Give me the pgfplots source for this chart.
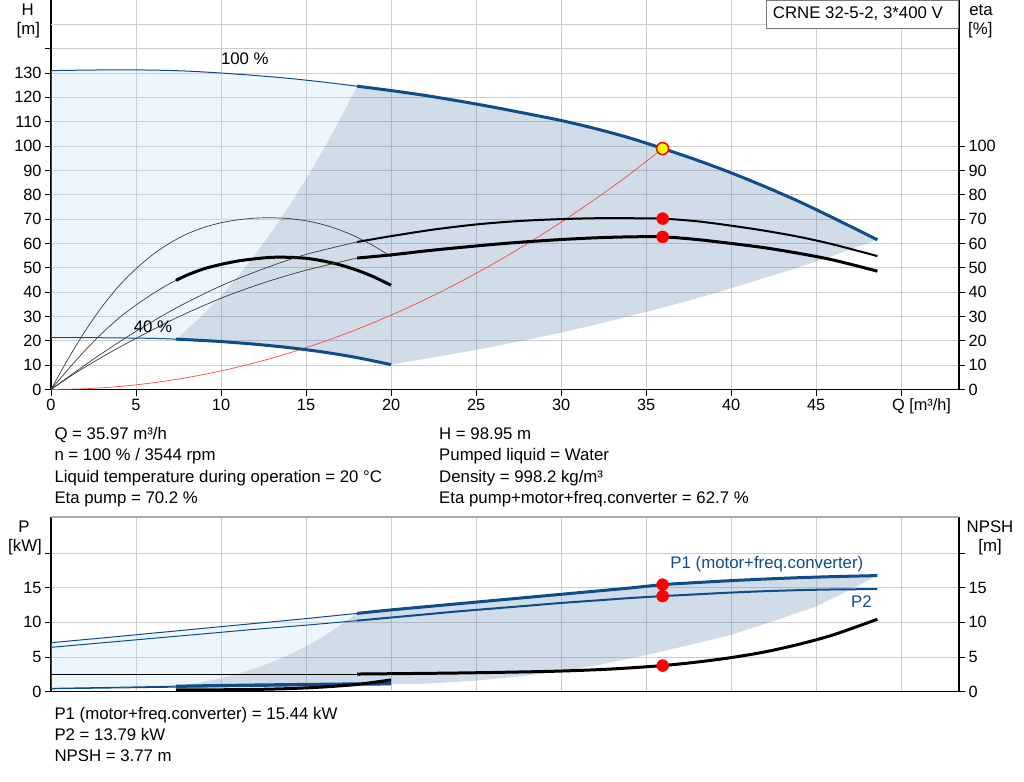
\documentclass[border=0pt]{standalone}
\usepackage{pgfplots}
\pgfplotsset{compat=1.18}
\usepackage{fontspec}
\setmainfont{Liberation Sans}
\definecolor{gblue}{RGB}{14,76,138}
\definecolor{lightfill}{RGB}{198,225,248}
\definecolor{darkfill}{RGB}{98,138,175}
\definecolor{gridc}{RGB}{205,205,205}
\definecolor{thinblack}{RGB}{60,60,60}
\definecolor{syscurve}{RGB}{255,70,70}
\definecolor{opred}{RGB}{255,0,0}
\definecolor{opyellow}{RGB}{255,255,0}
\tikzset{lbl/.style={font=\fontsize{16.8}{19}\selectfont, inner sep=0pt}}
\pgfplotsset{
  common/.style={
    scale only axis, width=908pt, xmin=0, xmax=53.4,
    tick label style={font=\fontsize{16.3}{19}\selectfont},
    /pgf/number format/assume math mode=true,
    tick align=outside, major tick length=6pt,
    tick style={black, line width=1pt},
    axis line style={-, black, line width=1.5pt},
  },
  thinb/.style={gblue, line width=1pt, smooth},
  thickb/.style={gblue, line width=3pt, smooth},
  think/.style={thinblack, line width=0.7pt, smooth},
}
\begin{document}
\begin{tikzpicture}[x=1pt,y=1pt]
\path[use as bounding box] (0,0) rectangle (1024,-781);

% ================= TOP : H / eta =================
\begin{axis}[common, at={(51pt,-389.5pt)}, anchor=south west,
  height=389.5pt, ymin=0, ymax=160,
  axis x line*=bottom, axis y line*=left,
  xtick={0,5,...,50}, xticklabels={0,5,10,15,20,25,30,35,40,45,{}},
  ytick={0,10,...,140}, yticklabels={0,10,20,30,40,50,60,70,80,90,100,110,120,130,{}},
  extra y ticks={150}, extra y tick labels={}, extra y tick style={grid=major, major tick length=0pt},
  grid=major, grid style={line width=1pt, color=gridc}]
% fills
\addplot[fill=lightfill, fill opacity=0.3, draw=none] coordinates {
(0,131.0)(2,131.2)(4,131.3)(6,131.2)(8,130.8)(10,130.0)(12,129.0)(14,127.8)(16,126.3)(18,124.6)
(17,111.0)(16,98.3)(15,86.4)(14,75.3)(13,64.9)(12,55.3)(11,46.5)(10,38.4)(9,31.1)(8,24.6)(7.35,20.7)
(6,21.0)(4,21.2)(2,21.3)(0,21.3)} --cycle;
\addplot[fill=darkfill, fill opacity=0.3, draw=none] coordinates {
(18,124.6)(20,122.8)(22,120.8)(24,118.5)(26,116.0)(28,113.3)(30,110.5)(32,107.2)(34,103.4)(36,98.95)(38,94.2)(40,89.0)(42,83.3)(44,77.2)(46,70.5)(48.6,61.5)
(46,55.0)(44,50.3)(42,45.9)(40,41.6)(38,37.5)(36,33.7)(34,30.1)(32,26.6)(30,23.4)(28,20.4)(26,17.6)(24,15.0)(22,12.6)(20,10.2)
(18,13.1)(16,15.4)(14,17.2)(12,18.6)(10,19.7)(9,20.1)(7.35,20.7)
(8,24.6)(9,31.1)(10,38.4)(11,46.5)(12,55.3)(13,64.9)(14,75.3)(15,86.4)(16,98.3)(17,111.0)(18,124.6)} --cycle;
% system curve
\addplot[syscurve, line width=0.7pt, smooth] coordinates {
(0,0)(2,0.31)(4,1.22)(6,2.75)(8,4.89)(10,7.64)(12,10.99)(14,14.96)(16,19.55)(18,24.74)(20,30.54)(22,36.95)(24,43.98)(26,51.61)(28,59.86)(30,68.71)(32,78.18)(34,88.26)(35.97,98.95)};
% eta curves 40%
\addplot[think] coordinates {
(0,0)(1,12.5)(2,23.9)(3,34.0)(4,42.6)(5,49.6)(6,55.5)(7,60.2)(8,63.9)(9,66.6)(10,68.5)(11,69.7)(12,70.4)(13,70.55)(14,70.2)(15,69.3)(16,67.75)(17,65.5)(18,62.55)(19,58.9)(20,54.55)};
\addplot[think] coordinates {(0,0)(1,8.25)(2,16.0)(3,23.1)(4,29.4)(5,34.7)(6,39.4)(7,43.6)(7.35,44.8)};
\addplot[black, line width=3pt, smooth] coordinates {
(7.35,44.8)(8,47.0)(9,49.6)(10,51.4)(11,52.8)(12,53.7)(13,54.3)(14,54.3)(15,53.9)(16,52.8)(17,51.2)(18,49.0)(19,46.2)(20,42.8)};
% eta curves 100%
\addplot[think] coordinates {(0,0)(2.5,12.5)(5,23.9)(7.5,34.0)(10,42.6)(12.5,49.6)(15,55.5)(18,60.6)};
\addplot[black, line width=2pt, smooth] coordinates {
(18,60.6)(20,63.0)(22.5,65.7)(25,67.8)(27.5,69.2)(30,70.0)(32.5,70.4)(35,70.3)(36,70.2)(38,69.1)(40,67.3)(42,65.2)(44,62.7)(46,59.6)(48.6,54.8)};
\addplot[think] coordinates {(0,0)(1,4.8)(2,9.2)(3.5,15.3)(5,21)(7.4,29.5)(10,37.5)(12.5,43.8)(15,49)(18,54)};
\addplot[black, line width=3pt, smooth] coordinates {
(18,54)(20,55.3)(22,56.9)(24,58.3)(26,59.6)(28,60.7)(30,61.6)(32,62.3)(34,62.7)(36,62.7)(38,61.6)(40,60.0)(42,58.2)(44,55.9)(46,53.2)(48.6,48.6)};
% H curves
\addplot[thinb] coordinates {(0,131.0)(2,131.2)(4,131.3)(6,131.2)(8,130.8)(10,130.0)(12,129.0)(14,127.8)(16,126.3)(18,124.6)};
\addplot[thickb] coordinates {
(18,124.6)(20,122.8)(22,120.8)(24,118.5)(26,116.0)(28,113.3)(30,110.5)(32,107.2)(34,103.4)(36,98.95)(38,94.2)(40,89.0)(42,83.3)(44,77.2)(46,70.5)(48.6,61.5)};
\addplot[thinb] coordinates {(0,21.3)(2,21.3)(4,21.2)(6,21.0)(7.35,20.7)};
\addplot[thickb] coordinates {(7.35,20.7)(9,20.1)(10,19.7)(12,18.6)(14,17.2)(16,15.4)(18,13.1)(20,10.2)};
% operating points
\addplot[only marks, mark=*, mark size=6pt, mark options={fill=opred, draw=opred}] coordinates {(35.97,70.2)(35.97,62.7)};
\addplot[only marks, mark=*, mark size=6pt, mark options={fill=opyellow, draw=opred, line width=1.5pt}] coordinates {(35.97,98.95)};
\node[lbl] at (axis cs:11.4,136) {100 \%};
\node[lbl] at (axis cs:6.0,25.8) {40 \%};
\end{axis}
\begin{axis}[common, at={(51pt,-389.5pt)}, anchor=south west,
  height=389.5pt, ymin=0, ymax=160,
  axis x line=none, axis y line*=right,
  y axis line style={line width=2.2pt},
  ytick={0,10,...,100}]
\addplot[draw=none] coordinates {(1,1)};
\end{axis}

% ================= BOTTOM : P / NPSH =================
\begin{axis}[common, at={(51pt,-691.7pt)}, anchor=south west,
  height=174.7pt, ymin=0, ymax=25.2,
  axis x line*=bottom, axis y line*=left,
  xtick={0,5,...,50}, xticklabels={}, xtick style={draw=none},
  ytick={0,5,10,15,20}, yticklabels={0,5,10,15,{}},
  grid=major, grid style={line width=1pt, color=gridc}]
\addplot[fill=lightfill, fill opacity=0.3, draw=none] coordinates {
(0,7.07)(3,7.75)(6,8.45)(9,9.15)(12,9.85)(15,10.55)(18,11.3)
(17,9.52)(16,7.94)(15,6.54)(14,5.32)(13,4.26)(12,3.35)(11,2.58)(10,1.94)(9,1.41)(8,0.99)(7.35,0.8)
(3.5,0.62)(0,0.48)} --cycle;
\addplot[fill=darkfill, fill opacity=0.3, draw=none] coordinates {
(18,11.3)(20,11.8)(22,12.25)(24,12.7)(26,13.15)(28,13.6)(30,14.05)(32,14.5)(34,14.95)(35.97,15.44)(38,15.75)(40,16.02)(42,16.25)(44,16.45)(46,16.6)(48.6,16.75)
(47,14.7)(45,12.3)(42.5,10.2)(40,8.2)(37.5,6.7)(35,5.3)(32.5,4.0)(30,2.9)(27.5,2.2)(25,1.6)(22,1.15)(20,1.1)
(16,1.05)(13,1.0)(10,0.9)(7.35,0.8)
(8,0.99)(9,1.41)(10,1.94)(11,2.58)(12,3.35)(13,4.26)(14,5.32)(15,6.54)(16,7.94)(17,9.52)(18,11.3)} --cycle;
% 40% curves
\addplot[thinb] coordinates {(0,0.48)(3.5,0.62)(7.35,0.8)};
\addplot[thinb] coordinates {(0,0.42)(7.35,0.66)};
\addplot[gblue, line width=1.5pt, smooth] coordinates {(7.35,0.66)(12,0.8)(16,0.92)(20,1.02)};
\addplot[gblue, line width=3pt, smooth] coordinates {(7.35,0.8)(10,0.9)(13,1.0)(16,1.08)(20,1.2)};
\addplot[black, line width=3pt, smooth] coordinates {(7.35,0.25)(10,0.28)(12,0.33)(14,0.45)(16,0.68)(18,1.05)(20,1.7)};
% NPSH
\addplot[black, line width=1pt] coordinates {(0,2.55)(18,2.55)};
\addplot[black, line width=3pt, smooth] coordinates {
(18,2.55)(21,2.62)(24,2.7)(27,2.82)(30,2.98)(33,3.28)(35.97,3.77)(38,4.28)(40,4.92)(42,5.75)(44,6.85)(46,8.2)(48.6,10.45)};
% P2
\addplot[thinb] coordinates {(0,6.4)(3,7.05)(6,7.7)(9,8.35)(12,9.0)(15,9.6)(18,10.25)};
\addplot[gblue, line width=2pt, smooth] coordinates {
(18,10.25)(20,10.7)(22,11.15)(24,11.6)(26,12.0)(28,12.4)(30,12.8)(32,13.15)(34,13.5)(35.97,13.79)(38,14.05)(40,14.3)(42,14.5)(44,14.65)(46,14.75)(48.6,14.8)};
% P1
\addplot[thinb] coordinates {(0,7.07)(3,7.75)(6,8.45)(9,9.15)(12,9.85)(15,10.55)(18,11.3)};
\addplot[thickb] coordinates {
(18,11.3)(20,11.8)(22,12.25)(24,12.7)(26,13.15)(28,13.6)(30,14.05)(32,14.5)(34,14.95)(35.97,15.44)(38,15.75)(40,16.02)(42,16.25)(44,16.45)(46,16.6)(48.6,16.75)};
\addplot[only marks, mark=*, mark size=6pt, mark options={fill=opred, draw=opred}] coordinates {(35.97,15.44)(35.97,13.79)(35.97,3.77)};
\node[lbl, text=gblue] at (axis cs:42.1,18.43) {P1 (motor+freq.converter)};
\node[lbl, text=gblue] at (axis cs:47.66,13.0) {P2};
\end{axis}
\begin{axis}[common, at={(51pt,-691.7pt)}, anchor=south west,
  height=174.7pt, ymin=0, ymax=25.2,
  axis x line=none, axis y line*=right,
  y axis line style={line width=2.2pt},
  ytick={0,5,10,15,20}, yticklabels={0,5,10,15,{}}]
\addplot[draw=none] coordinates {(1,1)};
\end{axis}
\draw[color={rgb,255:red,170;green,170;blue,170}, line width=1.5pt] (51,-517) -- (959,-517);

% ================= TEXTS =================
\node[lbl] at (27.7,-9.3) {H};
\node[lbl] at (28.3,-30) {[m]};
\node[lbl] at (981,-10) {eta};
\node[lbl] at (980.3,-30) {[\%]};
\node[lbl] at (24,-526.7) {P};
\node[lbl] at (25,-546.7) {[kW]};
\node[lbl] at (990,-526.7) {NPSH};
\node[lbl] at (990,-546.7) {[m]};
\node[lbl, font=\fontsize{16.3}{19}\selectfont] at (921.5,-406.7) {Q [m³/h]};

\draw[color={rgb,255:red,120;green,120;blue,120}, fill=white, line width=1pt] (766,-0.5) rectangle (958,-28.3);
\node[lbl, anchor=west] at (772.7,-13.3) {CRNE 32-5-2, 3*400 V};

\node[lbl, anchor=base west] at (54.3,-439) {Q = 35.97 m³/h};
\node[lbl, anchor=base west] at (54.3,-460.5) {n = 100 \% / 3544 rpm};
\node[lbl, anchor=base west] at (54.3,-482) {Liquid temperature during operation = 20 °C};
\node[lbl, anchor=base west] at (54.3,-503.5) {Eta pump = 70.2 \%};
\node[lbl, anchor=base west] at (439,-439) {H = 98.95 m};
\node[lbl, anchor=base west] at (439,-460.5) {Pumped liquid = Water};
\node[lbl, anchor=base west] at (439,-482) {Density = 998.2 kg/m³};
\node[lbl, anchor=base west] at (439,-503.5) {Eta pump+motor+freq.converter = 62.7 \%};

\node[lbl, anchor=base west] at (54.3,-719) {P1 (motor+freq.converter) = 15.44 kW};
\node[lbl, anchor=base west] at (54.3,-740) {P2 = 13.79 kW};
\node[lbl, anchor=base west] at (54.3,-761.5) {NPSH = 3.77 m};
\end{tikzpicture}
\end{document}
